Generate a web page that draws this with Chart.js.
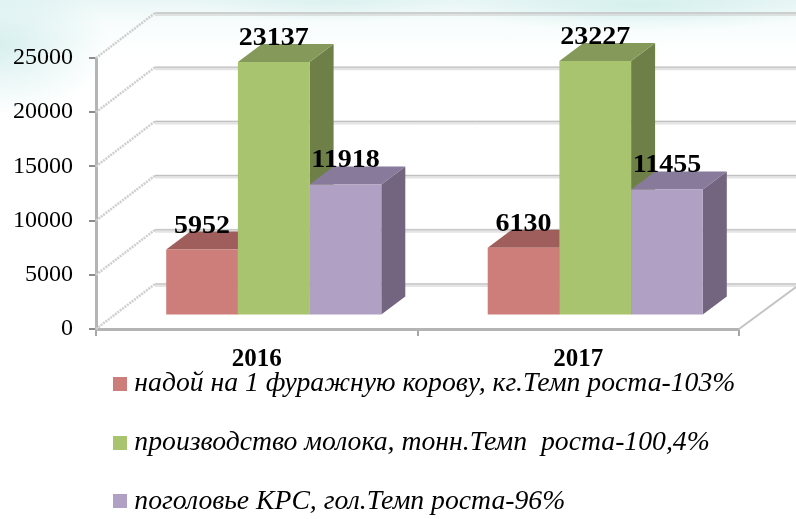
<!DOCTYPE html>
<html><head><meta charset="utf-8">
<style>
html,body{margin:0;padding:0;width:796px;height:519px;overflow:hidden;background:#fff}
#bg{position:absolute;left:0;top:0;width:796px;height:519px;
background:
 radial-gradient(ellipse 190px 26px at 640px 6px,rgba(190,232,228,.5),rgba(190,232,228,0)),
 radial-gradient(ellipse 140px 20px at 330px 2px,rgba(205,236,232,.45),rgba(205,236,232,0)),
 radial-gradient(ellipse 110px 70px at 0px 45px,rgba(200,233,232,.7),rgba(200,233,232,0)),
 linear-gradient(180deg,rgba(215,239,238,.55) 0,rgba(235,248,247,.4) 22px,rgba(255,255,255,0) 55px);}
#wrap{position:absolute;left:0;top:0;width:796px;height:519px}
</style>
<script src="https://cdn.jsdelivr.net/npm/chart.js@4"></script>
</head><body><div id="bg"></div><div id="wrap"><canvas id="c" width="796" height="519"></canvas></div>
<script>
const categories=['2016','2017'];
const milkYield=[5952,6130];
const milkOutput=[23137,23227];
const herd=[11918,11455];
const seriesNames=['надой на 1 фуражную корову, кг.Темп роста-103%','производство молока, тонн.Темп  роста-100,4%','поголовье КРС, гол.Темп роста-96%'];
const frontColors=['#CE7E7A','#A9C46F','#AFA0C4'];
const topColors=['#9F5E5B','#85995A','#887A9B'];
const sideColors=['#7E4A48','#6E8048','#736580'];
const yTicks=[0,5000,10000,15000,20000,25000];

const SERIF='"Liberation Serif","Times New Roman",serif';
const BACK={dx:59,dy:-45}, BAR_DX=17, DEPTH={dx:24,dy:-18};

const markers=frontColors.map(col=>{
  const m=document.createElement('canvas');m.width=14;m.height=14;
  const g=m.getContext('2d');g.fillStyle=col;g.fillRect(0,0,14,14);return m;
});

const walls={id:'walls',
afterLayout(chart){chart.legend.left=88.5;chart.legend.top=339;},
beforeDatasetsDraw(chart){
  const {ctx,chartArea:a,scales:{y}}=chart;
  ctx.save();
  yTicks.forEach(t=>{
    const py=y.getPixelForValue(t);
    ctx.strokeStyle='rgba(205,205,205,.55)';ctx.lineWidth=4;
    ctx.beginPath();ctx.moveTo(a.left+BACK.dx,py+BACK.dy+1);ctx.lineTo(796,py+BACK.dy+1);ctx.stroke();
    ctx.strokeStyle='#bdbdbd';ctx.lineWidth=1;
    ctx.beginPath();ctx.moveTo(a.left+BACK.dx,py+BACK.dy);ctx.lineTo(796,py+BACK.dy);ctx.stroke();
    ctx.strokeStyle='#cfcfcf';ctx.lineWidth=2.5;ctx.setLineDash([2,1]);
    ctx.beginPath();ctx.moveTo(a.left,py);ctx.lineTo(a.left+BACK.dx,py+BACK.dy);ctx.stroke();
    ctx.setLineDash([]);
  });
  const fy=y.getPixelForValue(0);
  ctx.strokeStyle='#c4c4c4';ctx.lineWidth=2;
  ctx.beginPath();ctx.moveTo(a.right,fy);ctx.lineTo(796,fy-42);ctx.stroke();
  ctx.restore();
  ctx.save();
  ctx.translate(BAR_DX,0);
  chart.getDatasetMeta(0).data.forEach((_,idx)=>{
    [0,1,2].forEach(ds=>{
      const b=chart.getDatasetMeta(ds).data[idx];
      const l=b.x-b.width/2,r=b.x+b.width/2,t=b.y,bt=b.base;
      ctx.fillStyle=sideColors[ds];
      ctx.beginPath();ctx.moveTo(r,t);ctx.lineTo(r+DEPTH.dx,t+DEPTH.dy);ctx.lineTo(r+DEPTH.dx,bt+DEPTH.dy);ctx.lineTo(r,bt);ctx.closePath();ctx.fill();
      ctx.fillStyle=topColors[ds];
      ctx.beginPath();ctx.moveTo(l,t);ctx.lineTo(l+DEPTH.dx,t+DEPTH.dy);ctx.lineTo(r+DEPTH.dx,t+DEPTH.dy);ctx.lineTo(r,t);ctx.closePath();ctx.fill();
    });
  });
},afterDatasetsDraw(chart){
  const {ctx}=chart;
  ctx.restore();
  ctx.save();
  ctx.fillStyle='#000';ctx.font='bold 25px '+SERIF;ctx.textAlign='center';ctx.textBaseline='alphabetic';
  [0,1,2].forEach(ds=>{
    chart.getDatasetMeta(ds).data.forEach((b,i)=>{
      const v=chart.data.datasets[ds].data[i];
      ctx.save();
      ctx.translate(b.x+BAR_DX,b.y-17);ctx.scale(1.12,1);
      ctx.fillText(String(v),0,0);
      ctx.restore();
    });
  });
  ctx.restore();
}};

new Chart(document.getElementById('c'),{
  type:'bar',
  data:{labels:categories,datasets:[
    {label:seriesNames[0],data:milkYield,backgroundColor:frontColors[0],yAxisID:'yBars',clip:false},
    {label:seriesNames[1],data:milkOutput,backgroundColor:frontColors[1],yAxisID:'yBars',clip:false},
    {label:seriesNames[2],data:herd,backgroundColor:frontColors[2],yAxisID:'yBars',clip:false}
  ]},
  options:{
    responsive:false,animation:false,
    categoryPercentage:0.669,barPercentage:1,
    layout:{padding:{top:58,right:57,bottom:0,left:0}},
    plugins:{
      tooltip:{enabled:false},
      legend:{position:'bottom',align:'start',fullSize:false,maxHeight:135,
        labels:{padding:31,color:'#000',usePointStyle:true,pointStyleWidth:1,boxHeight:14,
          font:{family:SERIF,style:'italic',size:27.7},
          generateLabels(chart){
            const items=Chart.defaults.plugins.legend.labels.generateLabels(chart);
            items.forEach((it,i)=>{it.pointStyle=markers[i];});
            return items;
          }}}
    },
    scales:{
      x:{grid:{display:true,drawOnChartArea:false,color:'#a6a6a6',lineWidth:2,tickLength:7},
         border:{color:'#b4b4b4',width:3},
         ticks:{color:'#000',padding:9,font:{family:SERIF,weight:'bold',size:25}}},
      y:{min:0,max:25000,afterBuildTicks(s){s.ticks=yTicks.map(v=>({value:v}));},
         afterFit(s){s.width=96;},
         grid:{drawOnChartArea:false,color:'#8c8c8c',lineWidth:2,tickLength:7},
         border:{color:'#b4b4b4',width:3},
         ticks:{color:'#000',padding:16,font:{family:SERIF,size:24},callback:v=>String(v)}},
      yBars:{display:false,min:-1320,max:23497}
    }
  },
  plugins:[walls]
});
</script></body></html>
